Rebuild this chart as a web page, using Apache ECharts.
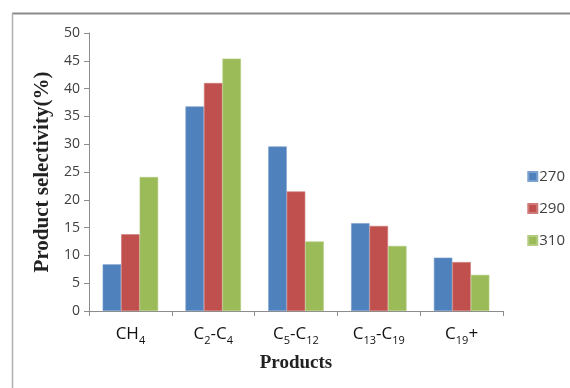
<!DOCTYPE html>
<html>
<head>
<meta charset="utf-8">
<script src="https://cdn.jsdelivr.net/npm/echarts@6/dist/echarts.min.js"></script>
<style>
  html, body { margin: 0; padding: 0; background: #fff; }
  #chart { width: 570px; height: 388px; }
</style>
</head>
<body>
<div id="chart"></div>
<script>
// Product groups (rich-text labels carry the subscripts)
const categories = ['CH4', 'C2-C4', 'C5-C12', 'C13-C19', 'C19+'];
const categoryLabels = [
  '{n|CH}{s|4}',
  '{n|C}{s|2}{n|-C}{s|4}',
  '{n|C}{s|5}{n|-C}{s|12}',
  '{n|C}{s|13}{n|-C}{s|19}',
  '{n|C}{s|19}{n|+}'
];
// Selectivity (%) at each temperature
const seriesNames = ['270', '290', '310'];
const values270 = [8.4, 36.8, 29.6, 15.8, 9.6];
const values290 = [13.8, 41.0, 21.5, 15.3, 8.8];
const values310 = [24.1, 45.4, 12.5, 11.7, 6.5];
const colors = ['#4F81BD', '#C0504D', '#9BBB59'];

const chart = echarts.init(document.getElementById('chart'), null, { renderer: 'canvas' });

const labelMap = {};
categories.forEach((c, i) => { labelMap[c] = categoryLabels[i]; });

const allValues = [values270, values290, values310];

chart.setOption({
  animation: false,
  backgroundColor: '#ffffff',
  color: colors,
  grid: { left: 89, right: 67, top: 33, bottom: 77 },
  legend: {
    orient: 'vertical',
    right: 0,
    top: 164,
    itemWidth: 9,
    itemHeight: 9,
    itemGap: 17,
    icon: 'rect',
    textStyle: { fontFamily: 'Open Sans, Liberation Sans, sans-serif', fontSize: 15, color: '#404040', padding: [0, 0, 0, -3] },
    data: seriesNames
  },
  xAxis: {
    type: 'category',
    data: categories,
    name: 'Products',
    nameLocation: 'middle',
    nameGap: 43,
    nameTextStyle: { fontFamily: 'Liberation Serif, serif', fontWeight: 'bold', fontSize: 19, color: '#222' },
    axisLine: { lineStyle: { color: '#8c8c8c', width: 1 } },
    axisTick: { show: true, length: 5, lineStyle: { color: '#8c8c8c' } },
    axisLabel: {
      interval: 0,
      margin: 10,
      formatter: v => labelMap[v],
      rich: {
        n: { fontFamily: 'Open Sans, Liberation Sans, sans-serif', fontSize: 17, color: '#111', verticalAlign: 'bottom', lineHeight: 22 },
        s: { fontFamily: 'Open Sans, Liberation Sans, sans-serif', fontSize: 11, color: '#111', verticalAlign: 'bottom', lineHeight: 22, padding: [0, 0, -3, 0] }
      }
    }
  },
  yAxis: {
    type: 'value',
    min: 0,
    max: 50,
    interval: 5,
    name: 'Product selectivity(%)',
    nameLocation: 'middle',
    nameGap: 35,
    nameTextStyle: { fontFamily: 'Liberation Serif, serif', fontWeight: 'bold', fontSize: 21, color: '#222' },
    axisLine: { show: true, lineStyle: { color: '#8c8c8c', width: 1 } },
    axisTick: { show: true, length: 5, lineStyle: { color: '#8c8c8c' } },
    splitLine: { show: false },
    axisLabel: { margin: 9, fontFamily: 'Open Sans, Liberation Sans, sans-serif', fontSize: 14, color: '#404040' }
  },
  series: seriesNames.map((name, i) => ({
    name: name,
    type: 'bar',
    data: allValues[i],
    barGap: '0%',
    barCategoryGap: '33%',
    itemStyle: { color: colors[i], borderColor: echarts.color.lift(colors[i], 0.25), borderWidth: 0.6 }
  })),
  graphic: [
    { type: 'line', shape: { x1: 12, y1: 13.5, x2: 570, y2: 13.5 }, style: { stroke: '#8a8a8a', lineWidth: 2 } },
    { type: 'line', shape: { x1: 12.5, y1: 13, x2: 12.5, y2: 388 }, style: { stroke: '#b0b0b0', lineWidth: 1.5 } }
  ]
});
</script>
</body>
</html>
